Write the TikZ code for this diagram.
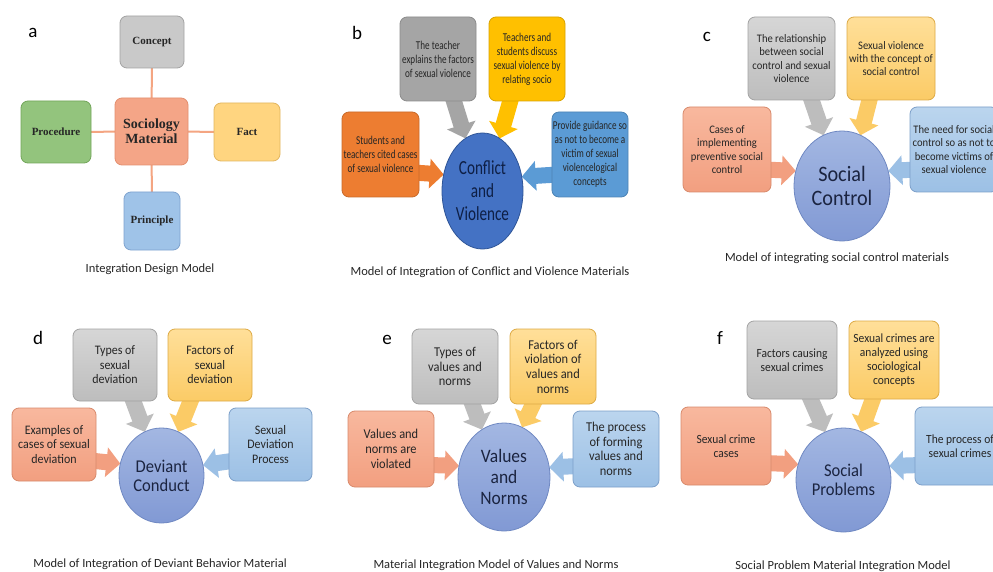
\documentclass[tikz,border=0pt]{standalone}
\usepackage{fontspec}
\setmainfont{Carlito}
\newfontfamily\fB[FakeStretch=0.76]{Carlito}
\newfontfamily\fC[FakeStretch=0.92]{Carlito}
\newfontfamily\fS{Liberation Serif}
\usetikzlibrary{shapes.geometric,arrows.meta}
\pgfdeclarelayer{back}
\pgfsetlayers{back,main}
% panel a
\definecolor{aGray}{HTML}{C9C9C9}\definecolor{aGrayD}{HTML}{A3A3A3}
\definecolor{aSal}{HTML}{F4A587}\definecolor{aSalD}{HTML}{E38F6F}
\definecolor{aGrn}{HTML}{93C47D}\definecolor{aGrnD}{HTML}{72A55A}
\definecolor{aYel}{HTML}{FFD580}\definecolor{aYelD}{HTML}{E2B660}
\definecolor{aBlu}{HTML}{9FC3E8}\definecolor{aBluD}{HTML}{7FA3CF}
\definecolor{aLine}{HTML}{F4A582}
% panel b
\definecolor{bGray}{HTML}{A5A5A5}\definecolor{bYel}{HTML}{FFC000}
\definecolor{bOra}{HTML}{ED7D31}\definecolor{bBlu}{HTML}{5B9BD5}
\definecolor{bCirc}{HTML}{4472C4}\definecolor{bCircD}{HTML}{2F5597}
\definecolor{bTxt}{HTML}{0E1F45}
% panels c-f
\definecolor{gL}{HTML}{D6D6D6}\definecolor{gM}{HTML}{BDBDBD}\definecolor{gD}{HTML}{A3A3A3}
\definecolor{yL}{HTML}{FFDF99}\definecolor{yM}{HTML}{FBCB66}\definecolor{yD}{HTML}{DDAA45}
\definecolor{sL}{HTML}{F8B89E}\definecolor{sM}{HTML}{F29F80}\definecolor{sD}{HTML}{D88A6C}
\definecolor{uL}{HTML}{BBD5EE}\definecolor{uM}{HTML}{9CC0E5}\definecolor{uD}{HTML}{7C9FC9}
\definecolor{cL}{HTML}{A3B7E2}\definecolor{cM}{HTML}{8199D4}\definecolor{cD}{HTML}{6F88C2}
\definecolor{cTxt}{HTML}{1B2440}
\definecolor{txt}{HTML}{262626}
\begin{document}
\begin{tikzpicture}[x=1pt,y=-1pt,
  box/.style={rectangle, rounded corners=7pt, align=center, inner sep=1pt, outer sep=0pt, line width=0.8pt, text=txt},
  abox/.style={box, font=\fS\bfseries\fontsize{11}{13}\selectfont},
  bbox/.style={box, draw=#1!85!black, fill=#1, font=\fB\fontsize{12}{14}\selectfont, minimum width=76, minimum height=84},
  cbox/.style={box, font=\fC\fontsize{11.5}{13.3}\selectfont},
  gbox/.style={cbox, draw=gD, top color=gL, bottom color=gM},
  ybox/.style={cbox, draw=yD, top color=yL, bottom color=yM},
  sbox/.style={cbox, draw=sD, top color=sL, bottom color=sM},
  ubox/.style={cbox, draw=uD, top color=uL, bottom color=uM},
  circ/.style={ellipse, inner sep=0pt, outer sep=0pt, align=center, line width=0.8pt},
  ccirc/.style={circ, draw=cD, top color=cL, bottom color=cM, text=cTxt},
  barrow/.style={line width=16pt, -{Triangle[length=14pt,width=29pt]}, draw=#1},
  lab/.style={font=\fontsize{19}{19}\selectfont, text=black},
  captext/.style={font=\fontsize{12.5}{14}\selectfont, text=txt}
]
\useasboundingbox (0,0) rectangle (993,572);
\begin{pgfonlayer}{back}
\fill[white] (0,0) rectangle (993,572);
\end{pgfonlayer}
\begin{scope}
\clip (0,0) rectangle (993,572);

% ---------------- panel a ----------------
\node[lab] (la) at (33,33) {a};
\node[abox, fill=aGray, draw=aGrayD, minimum width=64, minimum height=52] (concept) at (152,42) {Concept};
\node[abox, fill=aSal, draw=aSalD, minimum width=73, minimum height=67, font=\fS\bfseries\fontsize{14}{15}\selectfont] (soc) at (151.5,131.5) {Sociology\\Material};
\node[abox, fill=aGrn, draw=aGrnD, minimum width=70, minimum height=62] (proc) at (56,132) {Procedure};
\node[abox, fill=aYel, draw=aYelD, minimum width=66, minimum height=58] (fact) at (247,132) {Fact};
\node[abox, fill=aBlu, draw=aBluD, minimum width=56, minimum height=58] (princ) at (152,221) {Principle};
\begin{pgfonlayer}{back}
\draw[aLine, line width=2pt] (soc) -- (concept);
\draw[aLine, line width=2pt] (soc) -- (proc);
\draw[aLine, line width=2pt] (soc) -- (fact);
\draw[aLine, line width=2pt] (soc) -- (princ);
\end{pgfonlayer}
\node[captext] (capa) at (150,269) {Integration Design Model};

% ---------------- panel b ----------------
\node[lab] (lb) at (357,33) {b};
\node[bbox=bGray] (bgr) at (438,59) {The teacher\\explains the factors\\of sexual violence};
\node[bbox=bYel] (byl) at (527,59) {Teachers and\\students discuss\\sexual violence by\\relating socio};
\node[bbox=bOra, minimum width=77, minimum height=85] (bor) at (380.5,154.5) {Students and\\teachers cited cases\\of sexual violence};
\node[bbox=bBlu, minimum height=85] (bbl) at (590,154.5) {Provide guidance so\\as not to become a\\victim of sexual\\violencelogical\\concepts};
\node[circ, fill=bCirc, draw=bCircD, text=bTxt, minimum width=81, minimum height=116, font=\fB\fontsize{20}{23}\selectfont] (bc) at (482.5,191) {Conflict\\and\\Violence};
\begin{pgfonlayer}{back}
\draw[barrow=bGray] ([xshift=14pt,yshift=6pt]bgr.south) -- (bc.108);
\draw[barrow=bYel] ([xshift=-15pt,yshift=6pt]byl.south) -- (bc.72);
\draw[barrow=bOra] ([xshift=-6pt,yshift=-18pt]bor.east) -- (bc.157);
\draw[barrow=bBlu] ([xshift=6pt,yshift=-20pt]bbl.west) -- (bc.20);
\end{pgfonlayer}
\node[captext] (capb) at (490,272) {Model of Integration of Conflict and Violence Materials};

% ---------------- panel c ----------------
\node[lab] (lc) at (707,37) {c};
\node[gbox, minimum width=87, minimum height=83] (cg) at (791.5,58.5) {The relationship\\between social\\control and sexual\\violence};
\node[ybox, minimum width=88, minimum height=83] (cy) at (891,58.5) {Sexual violence\\with the concept of\\social control};
\node[sbox, minimum width=88, minimum height=85] (cs) at (727,149.5) {Cases of\\implementing\\preventive social\\control};
\node[ubox, minimum width=88, minimum height=85] (cb) at (954,149.5) {The need for social\\control so as not to\\become victims of\\sexual violence};
\node[ccirc, minimum width=96, minimum height=110, font=\fC\fontsize{22}{24}\selectfont] (cc) at (842,186) {Social\\Control};
\begin{pgfonlayer}{back}
\draw[barrow=gM] ([xshift=18pt,yshift=6pt]cg.south) -- (cc.110);
\draw[barrow=yM] ([xshift=-20pt,yshift=6pt]cy.south) -- (cc.70);
\draw[barrow=sM] ([xshift=-6pt,yshift=-20pt]cs.east) -- (cc.162);
\draw[barrow=uM] ([xshift=6pt,yshift=-20pt]cb.west) -- (cc.18);
\end{pgfonlayer}
\node[captext] (capc) at (837,258) {Model of integrating social control materials};

% ---------------- panel d ----------------
\node[lab] (ld) at (38,338) {d};
\node[gbox, minimum width=84, minimum height=72, font=\fC\fontsize{13}{14.5}\selectfont] (dg) at (115,365) {Types of\\sexual\\deviation};
\node[ybox, minimum width=84, minimum height=72, font=\fC\fontsize{13}{14.5}\selectfont] (dy) at (210,365) {Factors of\\sexual\\deviation};
\node[sbox, minimum width=84, minimum height=73, font=\fC\fontsize{13}{14.5}\selectfont] (ds) at (54,444.5) {Examples of\\cases of sexual\\deviation};
\node[ubox, minimum width=83, minimum height=73, font=\fC\fontsize{13}{14.5}\selectfont] (db) at (270.5,444.5) {Sexual\\Deviation\\Process};
\node[ccirc, minimum width=85, minimum height=95, font=\fC\fontsize{18}{19}\selectfont] (dc) at (161.5,475.5) {Deviant\\Conduct};
\begin{pgfonlayer}{back}
\draw[barrow=gM] ([xshift=16pt,yshift=6pt]dg.south) -- (dc.111);
\draw[barrow=yM] ([xshift=-17pt,yshift=6pt]dy.south) -- (dc.69);
\draw[barrow=sM] ([xshift=-6pt,yshift=-16pt]ds.east) -- (dc.164);
\draw[barrow=uM] ([xshift=6pt,yshift=-16pt]db.west) -- (dc.14);
\end{pgfonlayer}
\node[captext] (capd) at (160,564) {Model of Integration of Deviant Behavior Material};

% ---------------- panel e ----------------
\node[lab] (le) at (387,340) {e};
\node[gbox, minimum width=86, minimum height=75, font=\fC\fontsize{13.5}{14.7}\selectfont] (eg) at (455,366.5) {Types of\\values and\\norms};
\node[ybox, minimum width=86, minimum height=75, font=\fC\fontsize{13.5}{14.7}\selectfont] (ey) at (553,366.5) {Factors of\\violation of\\values and\\norms};
\node[sbox, minimum width=86, minimum height=76, font=\fC\fontsize{13.5}{14.7}\selectfont] (es) at (391,449) {Values and\\norms are\\violated};
\node[ubox, minimum width=86, minimum height=76, font=\fC\fontsize{13.5}{14.7}\selectfont] (eb) at (616,449) {The process\\of forming\\values and\\norms};
\node[ccirc, minimum width=92, minimum height=108, font=\fC\fontsize{19}{21}\selectfont] (ec) at (504,477) {Values\\and\\Norms};
\begin{pgfonlayer}{back}
\draw[barrow=gM] ([xshift=15pt,yshift=6pt]eg.south) -- (ec.115);
\draw[barrow=yM] ([xshift=-17pt,yshift=6pt]ey.south) -- (ec.70);
\draw[barrow=sM] ([xshift=-6pt,yshift=-16pt]es.east) -- (ec.166);
\draw[barrow=uM] ([xshift=6pt,yshift=-17pt]eb.west) -- (ec.12);
\end{pgfonlayer}
\node[captext] (cape) at (496,565) {Material Integration Model of Values and Norms};

% ---------------- panel f ----------------
\node[lab] (lf) at (720,338) {f};
\node[gbox, minimum width=90, minimum height=78, font=\fC\fontsize{12.5}{14}\selectfont] (fg) at (792,360) {Factors causing\\sexual crimes};
\node[ybox, minimum width=90, minimum height=78, font=\fC\fontsize{12.5}{14}\selectfont] (fy) at (894,360) {Sexual crimes are\\analyzed using\\sociological\\concepts};
\node[sbox, minimum width=90, minimum height=78, font=\fC\fontsize{12.5}{14}\selectfont] (fs) at (726,446) {Sexual crime\\cases};
\node[ubox, minimum width=90, minimum height=78, font=\fC\fontsize{12.5}{14}\selectfont] (fb) at (960,446) {The process of\\sexual crimes};
\node[ccirc, minimum width=95, minimum height=104, font=\fC\fontsize{18}{19}\selectfont] (fc) at (843.5,480) {Social\\Problems};
\begin{pgfonlayer}{back}
\draw[barrow=gM] ([xshift=16pt,yshift=6pt]fg.south) -- (fc.111);
\draw[barrow=yM] ([xshift=-19pt,yshift=6pt]fy.south) -- (fc.70);
\draw[barrow=sM] ([xshift=-6pt,yshift=-17pt]fs.east) -- (fc.161);
\draw[barrow=uM] ([xshift=6pt,yshift=-19pt]fb.west) -- (fc.17);
\end{pgfonlayer}
\node[captext] (capf) at (843,566) {Social Problem Material Integration Model};
\end{scope}
\end{tikzpicture}
\end{document}
